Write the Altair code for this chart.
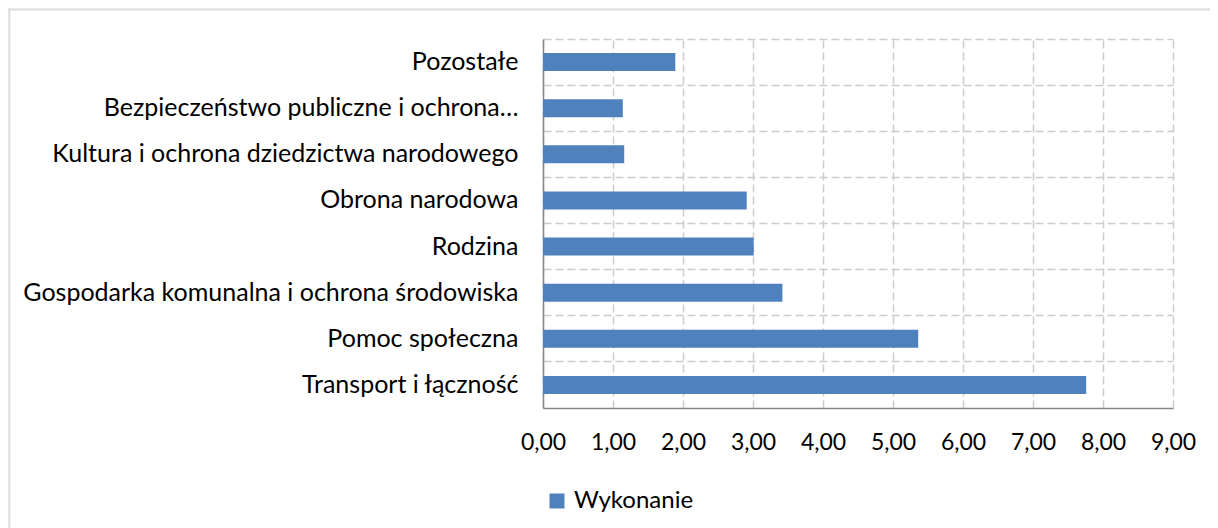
import altair as alt
import pandas as pd

categories = [
    "Pozostałe",
    "Bezpieczeństwo publiczne i ochrona…",
    "Kultura i ochrona dziedzictwa narodowego",
    "Obrona narodowa",
    "Rodzina",
    "Gospodarka komunalna i ochrona środowiska",
    "Pomoc społeczna",
    "Transport i łączność",
]
values = [1.89, 1.14, 1.16, 2.91, 3.01, 3.42, 5.36, 7.76]
series_name = "Wykonanie"
x_ticks = [0, 1, 2, 3, 4, 5, 6, 7, 8, 9]

df = pd.DataFrame({"cat": categories, "val": values, "series": [series_name] * len(categories)})

FONT = "Lato"
GRID = "#cccccc"

bars = alt.Chart(df).mark_bar(size=18).encode(
    y=alt.Y(
        "cat:N",
        sort=categories,
        scale=alt.Scale(paddingInner=0, paddingOuter=0),
        axis=alt.Axis(
            title=None,
            bandPosition=0,
            grid=True,
            gridColor=GRID,
            gridWidth=1.5,
            gridDash=[8, 4],
            ticks=False,
            domainColor="#868686",
            domainWidth=1.5,
            labelFont=FONT,
            labelFontSize=25,
            labelColor="#000000",
            labelPadding=25,
            labelLimit=600,
        ),
    ),
    x=alt.X(
        "val:Q",
        scale=alt.Scale(domain=[0, 9], nice=False),
        axis=alt.Axis(
            title=None,
            values=x_ticks,
            grid=True,
            gridColor=GRID,
            gridWidth=1.5,
            gridDash=[8, 4],
            ticks=False,
            domainColor="#868686",
            domainWidth=1.5,
            labelFont=FONT,
            labelFontSize=23,
            labelColor="#000000",
            labelPadding=23,
            labelFlush=False,
            labelOverlap=False,
            labelExpr="replace(format(datum.value, '.2f'), '.', ',')",
        ),
    ),
    color=alt.Color(
        "series:N",
        scale=alt.Scale(range=["#4F81BD"]),
        legend=alt.Legend(
            title=None,
            orient="none",
            legendX=2,
            legendY=450,
            symbolType="square",
            symbolSize=225,
            symbolStrokeWidth=0,
            labelFont=FONT,
            labelFontSize=24,
            labelColor="#000000",
            labelOffset=5,
        ),
    ),
)

frame_df = pd.DataFrame({"a": [0]})
top_rule = alt.Chart(frame_df).mark_rule(color="#dcdcdc", strokeWidth=2).encode(
    x=alt.value(-534), x2=alt.value(680), y=alt.value(-29.5)
)
left_rule = alt.Chart(frame_df).mark_rule(color="#dcdcdc", strokeWidth=2).encode(
    x=alt.value(-533.7), y=alt.value(-31), y2=alt.value(500)
)

chart = (
    alt.layer(bars, top_rule, left_rule)
    .properties(
        width=630,
        height=369,
        autosize=alt.AutoSizeParams(type="none"),
        padding={"left": 535, "top": 31, "right": 37, "bottom": 120},
    )
    .configure_view(stroke=None)
)

chart.save("out.html", embed_options={"renderer": "svg", "actions": False})
